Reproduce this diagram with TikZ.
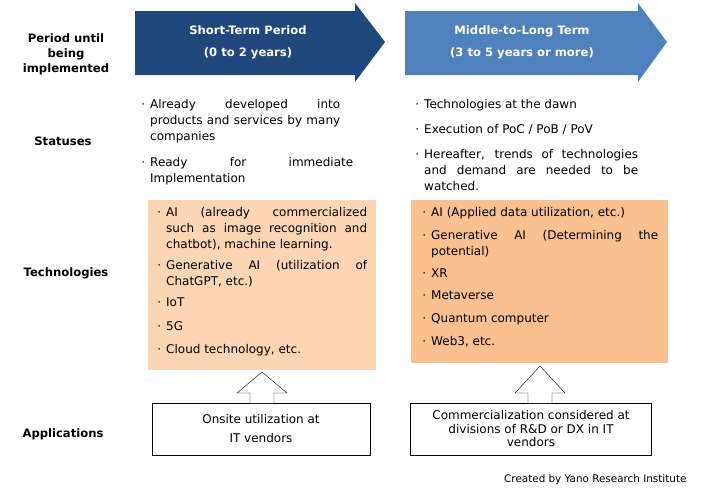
\documentclass[tikz,border=0pt]{standalone}
\usepackage{fontspec}
\setmainfont{DejaVu Sans}
\usetikzlibrary{positioning}
\definecolor{darkblue}{HTML}{1F497D}
\definecolor{midblue}{HTML}{4F81BD}
\definecolor{peach}{HTML}{FCD5B4}
\definecolor{orange2}{HTML}{FAC090}
\hyphenpenalty=10000
\exhyphenpenalty=10000
\tikzset{
  rowlabel/.style={font=\bfseries\fontsize{11.6}{15}\selectfont, align=center},
  item/.style={anchor=north west, text width=#1, align=justify, inner sep=0pt,
    font=\fontsize{12}{16}\selectfont},
  headtext/.style={text=white, font=\bfseries\fontsize{11.6}{22}\selectfont, align=center},
  appbox/.style={draw, fill=white, align=center, font=\fontsize{12}{19}\selectfont}
}
\newcommand{\itm}{\llap{·\hspace{5pt}}}
\begin{document}
\begin{tikzpicture}[x=1pt,y=-1pt]
  \useasboundingbox (0,0) rectangle (707,491);
  % header arrows
  \fill[darkblue] (135,11) -- (355,11) -- (355,3) -- (385,42) -- (355,82) -- (355,75) -- (135,75) -- cycle;
  \fill[midblue] (405,11) -- (638,11) -- (638,3) -- (667,42) -- (638,82) -- (638,75) -- (405,75) -- cycle;
  \node[headtext] (short) at (248,42) {Short-Term Period\\(0 to 2 years)};
  \node[headtext] (long) at (522,42) {Middle-to-Long Term\\(3 to 5 years or more)};

  % row labels
  \node[rowlabel] (period) at (66,54) {Period until\\being\\implemented};
  \node[rowlabel] (stat) at (63,141) {Statuses};
  \node[rowlabel] (tech) at (66,273) {Technologies};
  \node[rowlabel] (appl) at (63,434) {Applications};

  % statuses
  \node[item=203pt, text width=190pt] (s1) at (150,99) {\itm Already developed into products and services by many companies};
  \node[item=203pt] (s2) at (150,157) {\itm Ready for immediate Implementation};
  \node[item=226pt] (s3) at (424,99) {\itm Technologies at the dawn};
  \node[item=226pt] (s4) at (424,124) {\itm Execution of PoC / PoB / PoV};
  \node[item=226pt, text width=214pt] (s5) at (424,149) {\itm Hereafter, trends of technologies and demand are needed to be watched.};

  % technology boxes
  \fill[peach] (148,200) rectangle (376,370);
  \fill[orange2] (411,200) rectangle (668,363);
  \node[item=201pt] (t1) at (166,207) {\itm AI (already commercialized such as image recognition and chatbot), machine learning.};
  \node[item=201pt] (t2) at (166,260) {\itm Generative AI (utilization of ChatGPT, etc.)};
  \node[item=201pt] (t3) at (166,298) {\itm IoT};
  \node[item=201pt] (t4) at (166,321) {\itm 5G};
  \node[item=201pt] (t5) at (166,344) {\itm Cloud technology, etc.};
  \node[item=227pt] (u1) at (431,207) {\itm AI (Applied data utilization, etc.)};
  \node[item=227pt] (u2) at (431,230) {\itm Generative AI (Determining the potential)};
  \node[item=227pt] (u3) at (431,269) {\itm XR};
  \node[item=227pt] (u4) at (431,291) {\itm Metaverse};
  \node[item=227pt] (u5) at (431,313) {\itm Quantum computer};
  \node[item=227pt] (u6) at (431,336) {\itm Web3, etc.};

  % application boxes
  \node[appbox, minimum width=218pt, minimum height=52pt] (a1) at (261,429) {Onsite utilization at\\IT vendors};
  \node[appbox, minimum width=241pt, minimum height=52pt, font=\fontsize{12}{13.5}\selectfont] (a2) at (531,429) {Commercialization considered at\\divisions of R\&D or DX in IT\\vendors};

  % hollow up arrows
  \foreach \cx/\top in {262/372, 540/366} {
    \draw[fill=white] (\cx-12,403) -- (\cx-12,393) -- (\cx-25,393) -- (\cx,\top) -- (\cx+25,393) -- (\cx+12,393) -- (\cx+12,403);
  }

  \node[font=\fontsize{10.4}{10}\selectfont, anchor=east] (credit) at (690,480) {Created by Yano Research Institute};
\end{tikzpicture}
\end{document}
